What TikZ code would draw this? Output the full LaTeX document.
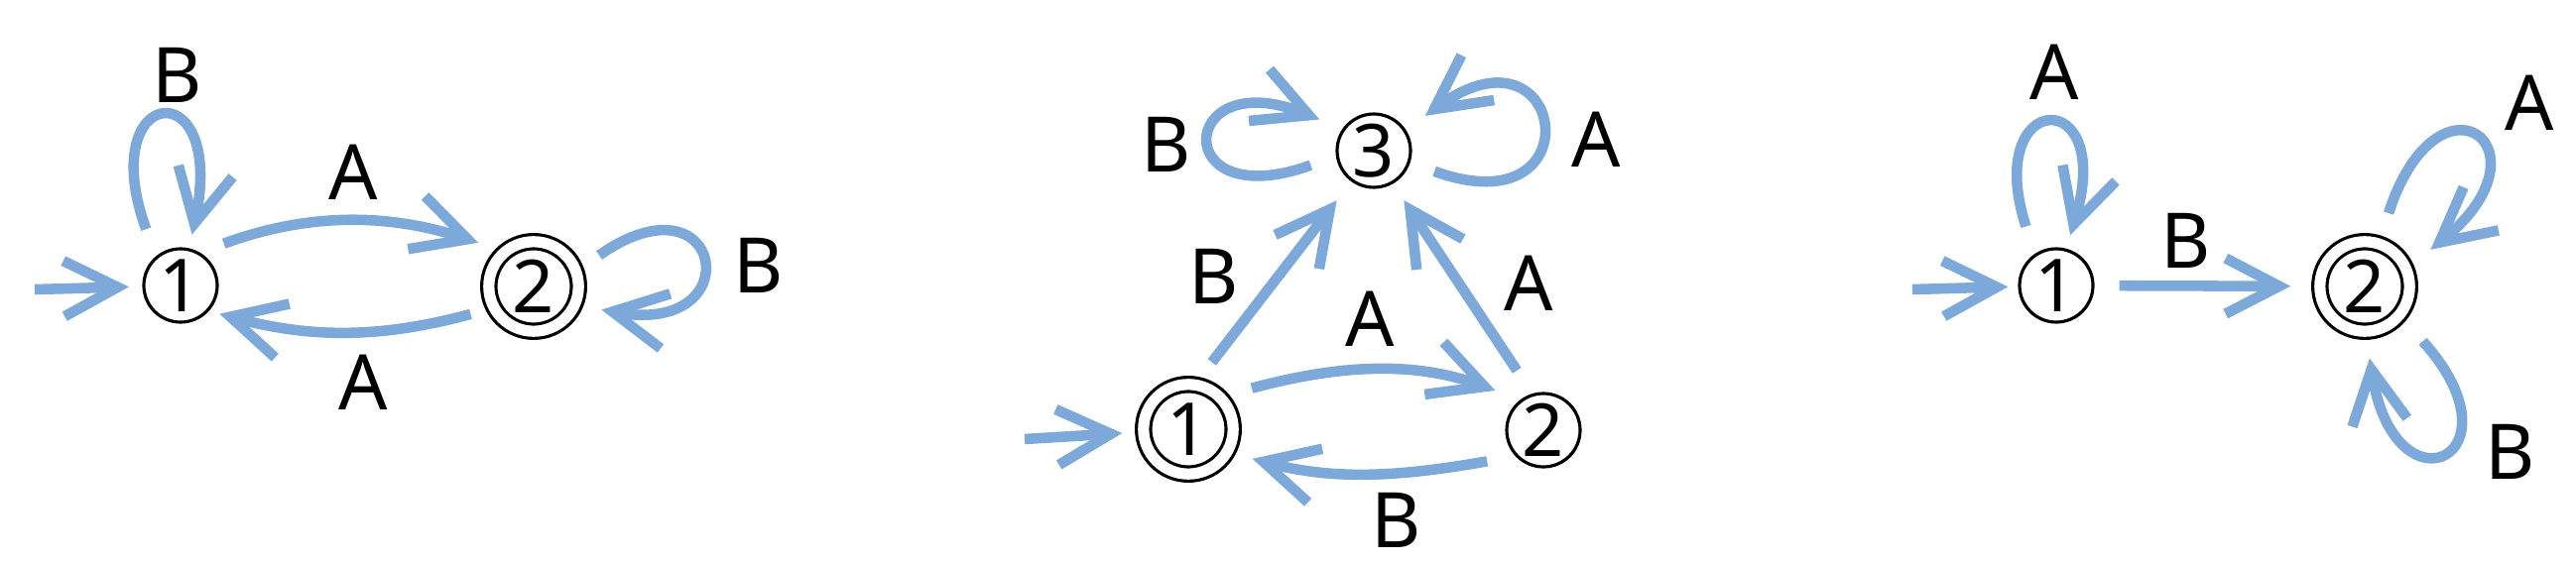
\documentclass[tikz,border=0pt]{standalone}
\usepackage{fontspec}
\setmainfont{Noto Sans}
\usetikzlibrary{arrows.meta}
\definecolor{edgeblue}{RGB}{125,168,218}
\tikzset{
  st/.style={draw, circle, line width=0.9pt, minimum size=0.74cm, inner sep=0pt, font=\fontsize{21}{21}\selectfont},
  acc/.style={st, double, double distance=0.112cm, minimum size=0.904cm},
  lbl/.style={inner sep=0pt, font=\fontsize{22}{22}\selectfont},
  tr/.style={draw=edgeblue, line width=3pt, -{Straight Barb[length=5.4mm,width=5.6mm]}}
}
\begin{document}
\begin{tikzpicture}
      \useasboundingbox (0,0) rectangle (25.97,-5.69);

      % Automata 1
      \node[st] (q1_1) at (1.82,-2.88) {1};
      \node[acc] (q1_2) at (5.38,-2.89) {2};
      \coordinate (q1_in) at (0.35,-2.92);

      \draw[tr, shorten >=0.135cm] (q1_in) -- (q1_1);
      \draw[tr, shorten <=0.26cm, shorten >=0.27cm] (q1_1.60) to[out=20, in=162] (q1_2.130);
      \draw[tr, shorten <=0.23cm, shorten >=0.11cm] (q1_2.208) to[out=195, in=-15] (q1_1.-42);
      \draw[tr, shorten <=0.29cm, shorten >=0.14cm] (q1_1.130) to[out=110, in=78, min distance=1.85cm] (q1_1.77);
      \draw[tr, shorten <=0.27cm, shorten >=0.26cm] (q1_2.20) to[out=35, in=-10, min distance=1.8cm] (q1_2.-24);

      \node[lbl] (l1_1) at (1.79,-0.755) {B};
      \node[lbl] (l1_2) at (3.56,-1.74) {A};
      \node[lbl] (l1_3) at (3.66,-3.86) {A};
      \node[lbl] (l1_4) at (7.65,-2.68) {B};

      % Automata 2
      \node[acc] (q2_1) at (11.98,-4.33) {1};
      \node[st] (q2_2) at (15.56,-4.34) {2};
      \node[st] (q2_3) at (13.85,-1.52) {3};
      \coordinate (q2_in) at (10.33,-4.43);

      \draw[tr, shorten >=0.2cm] (q2_in) -- (q2_1);
      \draw[tr, shorten <=0.32cm, shorten >=0.27cm] (q2_1.45) to[out=15, in=160] (q2_2.127);
      \draw[tr, shorten <=0.29cm, shorten >=0.25cm] (q2_2.223) to[out=190, in=-15] (q2_1.-30);
      \draw[tr, shorten <=0.27cm, shorten >=0.24cm] (q2_1.81) -- (q2_3.234);
      \draw[tr, shorten <=0.28cm, shorten >=0.2cm] (q2_2.107) -- (q2_3.-60);
      \draw[tr, shorten <=0.27cm, shorten >=0.25cm] (q2_3.188) to[out=200, in=158, min distance=1.8cm] (q2_3.145);
      \draw[tr, shorten <=0.26cm, shorten >=0.24cm] (q2_3.-18) to[out=-20, in=36, min distance=2cm] (q2_3.33);

      \node[lbl] (l2_1) at (11.76,-1.46) {B};
      \node[lbl] (l2_2) at (16.09,-1.41) {A};
      \node[lbl] (l2_3) at (12.24,-2.79) {B};
      \node[lbl] (l2_4) at (13.81,-3.22) {A};
      \node[lbl] (l2_5) at (15.41,-2.86) {A};
      \node[lbl] (l2_6) at (14.08,-5.25) {B};

      % Automata 3
      \node[st] (q3_1) at (20.73,-2.88) {1};
      \node[acc] (q3_2) at (23.84,-2.89) {2};
      \coordinate (q3_in) at (19.28,-2.92);

      \draw[tr, shorten >=0.1cm] (q3_in) -- (q3_1);
      \draw[tr, shorten <=0.25cm, shorten >=0.28cm] (q3_1) -- (q3_2);
      \draw[tr, shorten <=0.29cm, shorten >=0.14cm] (q3_1.124) to[out=108, in=73, min distance=1.75cm] (q3_1.75);
      \draw[tr, shorten <=0.31cm, shorten >=0.3cm] (q3_2.72) to[out=72, in=39, min distance=1.93cm] (q3_2.23);
      \draw[tr, shorten <=0.34cm, shorten >=0.26cm] (q3_2.-40) to[out=-48, in=-81, min distance=1.9cm] (q3_2.-89);

      \node[lbl] (l3_1) at (20.71,-0.73) {A};
      \node[lbl] (l3_2) at (22.04,-2.43) {B};
      \node[lbl] (l3_3) at (25.50,-1.04) {A};
      \node[lbl] (l3_4) at (25.31,-4.56) {B};
\end{tikzpicture}
\end{document}
